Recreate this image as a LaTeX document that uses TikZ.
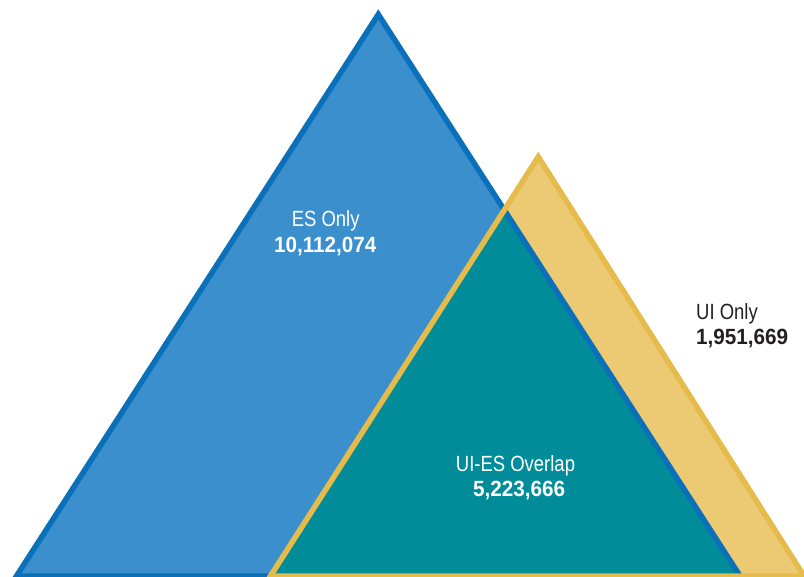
\documentclass[tikz,border=0pt]{standalone}
\usepackage{fontspec}
\setmainfont[FakeStretch=0.84]{Liberation Sans}
\newfontfamily\numfont[FakeStretch=0.94]{Liberation Sans Bold}
\definecolor{esfill}{HTML}{3A8FCC}
\definecolor{esline}{HTML}{0A70BA}
\definecolor{uifill}{HTML}{EBCA73}
\definecolor{uiline}{HTML}{E5BC4C}
\definecolor{overlap}{HTML}{008D99}
\definecolor{inkdark}{HTML}{231F20}
\begin{document}
\begin{tikzpicture}[x=1pt,y=-1pt,
  edge/.style={line width=5.5pt,line join=miter},
  lbl/.style={inner sep=0pt,anchor=base,font=\fontsize{22}{26}\selectfont},
  num/.style={inner sep=0pt,anchor=base,font=\fontsize{22}{26}\selectfont\numfont}]
\useasboundingbox (0,0) rectangle (804,577);
\clip (0,0) rectangle (804,577);
% triangle corners
\coordinate (esT) at (378.3,14.4);
\coordinate (esL) at (16.5,576);
\coordinate (esR) at (740,576);
\coordinate (uiT) at (538.3,156.8);
\coordinate (uiL) at (270.5,576);
\coordinate (uiR) at (804,576);
% fills
\fill[esfill] (esT) -- (esL) -- (esR) -- cycle;
\fill[uifill] (uiT) -- (uiL) -- (uiR) -- cycle;
\begin{scope}
  \clip (esT) -- (esL) -- (esR) -- cycle;
  \fill[overlap] (uiT) -- (uiL) -- (uiR) -- cycle;
\end{scope}
% outlines
\draw[edge,esline] (esT) -- (esL) -- (esR) -- cycle;
\draw[edge,uiline] (uiT) -- (uiL) -- (uiR) -- cycle;
% labels
\node[lbl,white] (es) at (325.7,226.8) {ES Only};
\node[num,white] (esn) at (325.3,252.8) {10,112,074};
\node[lbl,white] (ov) at (515.5,471.5) {UI-ES Overlap};
\node[num,white] (ovn) at (519.2,496.6) {5,223,666};
\node[lbl,inkdark,anchor=base west] (ui) at (696,319.6) {UI Only};
\node[num,inkdark,anchor=base west] (uin) at (696,344.4) {1,951,669};
\end{tikzpicture}
\end{document}
